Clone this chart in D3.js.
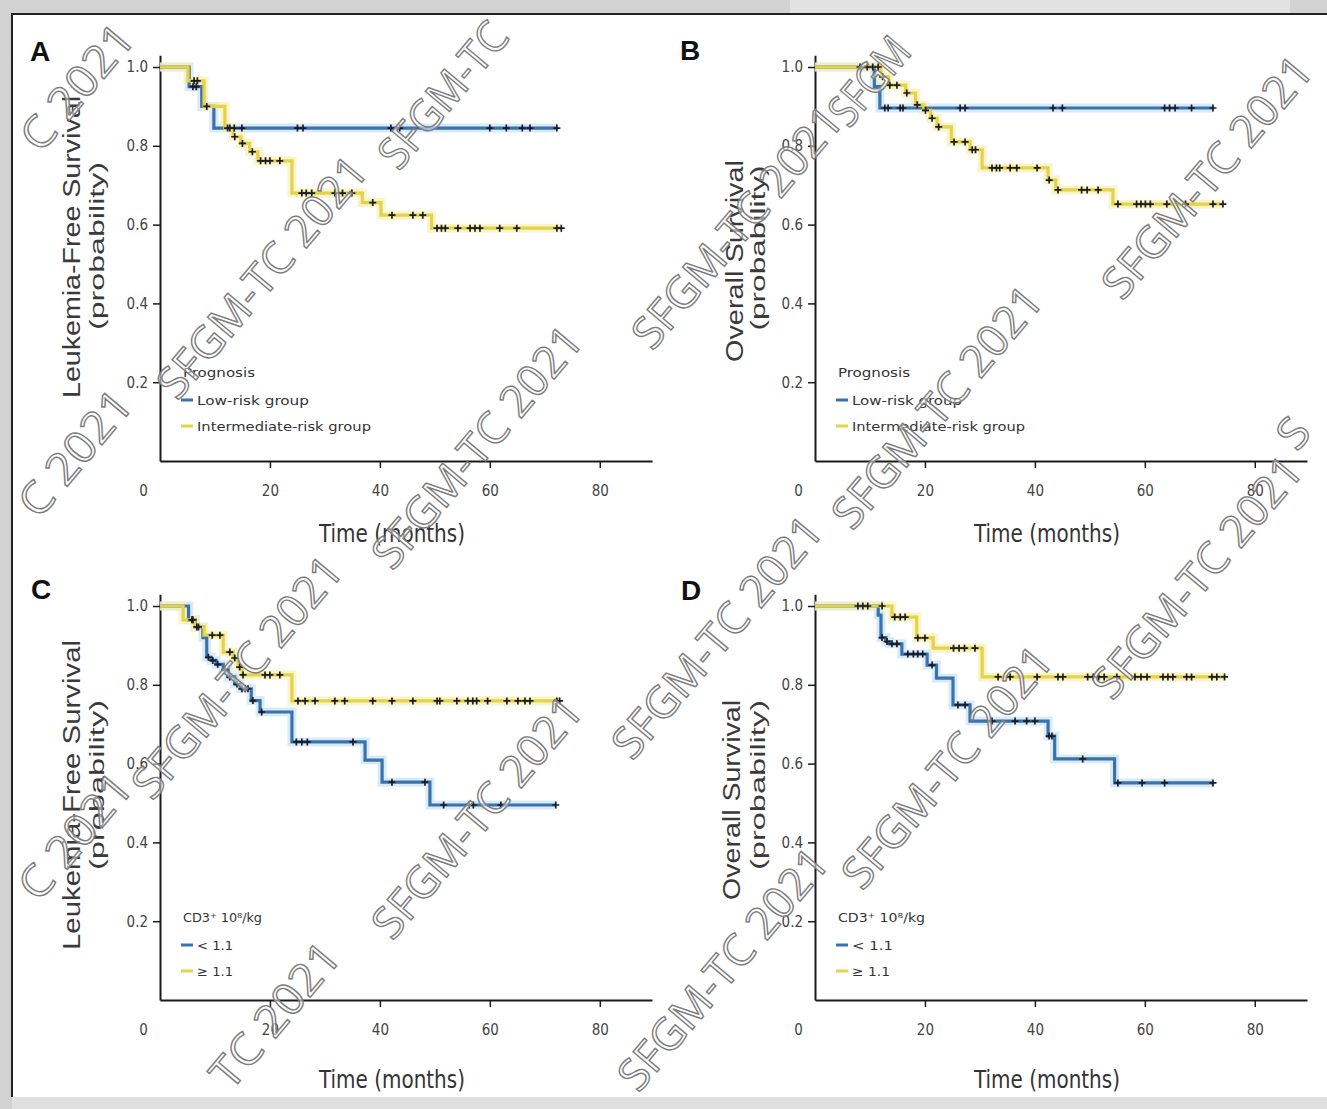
<!DOCTYPE html>
<html>
<head>
<meta charset="utf-8">
<title>Survival curves</title>
<script src="https://cdn.jsdelivr.net/npm/d3@7/dist/d3.min.js"></script>
<style>
  body{margin:0;background:#d2d2d2;overflow:hidden}
  .tick text{font-family:"Liberation Sans Narrow","DejaVu Sans Condensed",sans-serif;font-stretch:condensed;font-size:15px;fill:#444}
  .domain{stroke:#1a1a1a;stroke-width:2px}
  .tick line{stroke:#1a1a1a;stroke-width:1.5px}
  .narrow{font-family:"Liberation Sans Narrow","DejaVu Sans Condensed",sans-serif;font-stretch:condensed;fill:#333}
  .ylab{font-family:"Liberation Sans",Arial,sans-serif;fill:#3a3a3a}
  .stamp{font-family:"Open Sans",Lato,sans-serif;font-size:44px;fill:#fff;fill-opacity:0.55;stroke:#7d7d7d;stroke-width:1.4px}
</style>
</head>
<body>
<svg id="fig" width="1327" height="1109"></svg>
<script>
// ticks
const xTicks = [0, 20, 40, 60, 80];
const yTicks = [0.2, 0.4, 0.6, 0.8, 1.0];
const xMaxMonths = 89.5;

// A : leukemia-free survival, prognosis groups
const aLowSteps = [[0,1],[5.3,0.95],[7.6,0.90],[9.8,0.845]];
const aLowCens  = [6.0,6.6,8.5,12.7,13.5,14.9,25.0,26.0,42.0,43.6,60.0,63.0,65.9,67.3,72.2];
const aLowEnd   = 72.2;
const aIntSteps = [[0,1],[5.1,0.965],[8.0,0.90],[11.8,0.845],[13.3,0.823],[14.7,0.806],[16.3,0.785],[17.8,0.762],[24.0,0.68],[36.8,0.656],[40.2,0.624],[49.4,0.591]];
const aIntCens  = [6.2,6.8,12.3,13.6,15.0,16.8,18.3,19.2,20.0,21.8,25.8,26.6,27.6,31.8,33.2,34.9,38.7,42.2,46.0,47.8,50.4,51.2,51.9,54.2,56.4,57.3,58.2,61.8,64.9,72.2,73.0];
const aIntEnd   = 73.0;

// B : overall survival, prognosis groups
const bLowSteps = [[0,1],[10.8,0.95],[11.8,0.896]];
const bLowCens  = [12.7,13.3,15.5,16.0,26.4,27.3,43.3,45.0,63.6,64.5,65.5,68.5,72.4];
const bLowEnd   = 72.4;
const bIntSteps = [[0,1],[12.0,0.975],[13.4,0.954],[16.5,0.934],[18.3,0.904],[19.8,0.89],[21.0,0.87],[22.2,0.848],[24.8,0.81],[28.2,0.79],[30.4,0.744],[42.4,0.713],[43.8,0.688],[54.2,0.652]];
const bIntCens  = [8.2,9.5,10.5,11.5,12.3,13.6,14.9,16.7,18.6,20.1,21.3,22.5,25.3,27.3,28.6,29.2,32.2,33.0,33.6,35.5,36.7,40.4,42.6,44.2,48.5,49.5,51.5,55.1,58.5,59.3,60.1,61.0,64.0,67.4,72.4,74.2];
const bIntEnd   = 74.2;

// C : leukemia-free survival, CD3+ dose
const cLowSteps = [[0,1],[5.2,0.965],[6.4,0.947],[7.8,0.92],[8.5,0.87],[9.3,0.862],[10.2,0.852],[11.5,0.838],[12.4,0.82],[13.6,0.802],[14.6,0.79],[16.6,0.76],[18.2,0.731],[24.0,0.655],[37.3,0.609],[40.4,0.553],[49.1,0.495]];
const cLowCens  = [5.8,6.7,8.8,9.6,10.5,11.8,12.7,14.0,14.9,15.5,16.0,16.9,18.5,24.8,25.8,26.8,35.1,42.2,48.2,51.6,56.2,57.0,62.0,72.0];
const cLowEnd   = 72.0;
const cHighSteps = [[0,1],[4.2,0.965],[6.3,0.947],[8.0,0.926],[11.5,0.883],[13.3,0.868],[14.2,0.845],[15.0,0.825],[24.0,0.759]];
const cHighCens  = [6.0,7.0,9.5,10.9,12.7,13.6,14.5,15.1,19.1,20.0,21.8,25.1,26.4,28.2,31.8,33.6,38.7,42.2,46.0,50.4,50.9,54.0,56.0,56.9,57.6,59.6,63.1,65.1,66.4,67.3,72.2,72.7];
const cHighEnd   = 72.7;

// D : overall survival, CD3+ dose
const dLowSteps = [[0,1],[11.5,0.977],[12.0,0.92],[12.9,0.91],[13.6,0.904],[15.8,0.878],[20.4,0.85],[22.1,0.817],[25.1,0.749],[28.2,0.708],[42.4,0.67],[43.6,0.612],[54.5,0.551]];
const dLowCens  = [12.2,13.1,14.0,14.9,16.9,17.9,18.7,19.6,21.3,26.0,27.3,32.2,36.4,38.5,40.0,42.6,43.1,48.7,55.1,59.5,63.6,72.4];
const dLowEnd   = 72.4;
const dHighSteps = [[0,1],[14.0,0.972],[18.5,0.919],[21.5,0.893],[30.4,0.82]];
const dHighCens  = [7.8,8.7,9.6,12.2,14.5,15.5,16.4,18.7,20.0,25.2,26.2,27.2,29.1,33.3,35.5,40.4,44.2,45.1,49.6,50.6,51.6,52.6,54.9,58.2,59.3,60.4,63.3,64.2,65.1,67.6,68.5,72.2,73.1,74.5];
const dHighEnd   = 74.5;

// legend texts
const groupTitle = "Prognosis";
const groupNames = ["Low-risk group", "Intermediate-risk group"];
const doseTitle  = "CD3\u207A 10\u2078/kg";
const doseNames  = ["< 1.1", "\u2265 1.1"];
const lfsLabel = ["Leukemia-Free Survival", "(probability)"];
const osLabel  = ["Overall Survival", "(probability)"];
const timeLabel = "Time (months)";

const blue = {line:"#3a72ad", halo:"#c9e3f6"};
const yellow = {line:"#e3d24a", halo:"#f7f0b4"};

var svg = d3.select("#fig");

// page + frame
svg.append("rect").attr("width",1327).attr("height",1109).attr("fill","#d2d2d2")
svg.append("rect").attr("x",790).attr("y",0).attr("width",500).attr("height",13).attr("fill","#e2e2e2")
svg.append("rect").attr("x",12).attr("y",1097).attr("width",1315).attr("height",12).attr("fill","#e0e0e0")
svg.append("rect").attr("x",12).attr("y",14).attr("width",1320).attr("height",1083).attr("fill","#fff")
svg.append("path").attr("d","M12,1097V14H1327").attr("fill","none").attr("stroke","#222").attr("stroke-width",2)

var panels = [
  {tag:"A", tagX:30, tagY:61, ox:160, oy:461, ylab:lfsLabel, ylabX:[80,104], ylabY:[247,246], ylabLen:[302,168],
   xlabX:392, xlabY:542, legX:181, legY:373, legTitle:groupTitle, names:groupNames, legLen:[72,112,174],
   curves:[{steps:aLowSteps,cens:aLowCens,end:aLowEnd,col:blue},{steps:aIntSteps,cens:aIntCens,end:aIntEnd,col:yellow}]},
  {tag:"B", tagX:680, tagY:60, ox:815, oy:461, ylab:osLabel, ylabX:[743,765], ylabY:[261,248], ylabLen:[202,165],
   xlabX:1047, xlabY:542, legX:836, legY:373, legTitle:groupTitle, names:groupNames, legLen:[72,110,173],
   curves:[{steps:bLowSteps,cens:bLowCens,end:bLowEnd,col:blue},{steps:bIntSteps,cens:bIntCens,end:bIntEnd,col:yellow}]},
  {tag:"C", tagX:31, tagY:599, ox:160, oy:1000, ylab:lfsLabel, ylabX:[80,104], ylabY:[795,785], ylabLen:[310,170],
   xlabX:392, xlabY:1088, legX:181, legY:918, legTitle:doseTitle, names:doseNames, legLen:[79,36,36],
   curves:[{steps:cLowSteps,cens:cLowCens,end:cLowEnd,col:blue},{steps:cHighSteps,cens:cHighCens,end:cHighEnd,col:yellow}]},
  {tag:"D", tagX:681, tagY:600, ox:815, oy:1000, ylab:osLabel, ylabX:[740,765], ylabY:[800,785], ylabLen:[200,170],
   xlabX:1047, xlabY:1088, legX:836, legY:918, legTitle:doseTitle, names:doseNames, legLen:[87,41,38],
   curves:[{steps:dLowSteps,cens:dLowCens,end:dLowEnd,col:blue},{steps:dHighSteps,cens:dHighCens,end:dHighEnd,col:yellow}]}
];

function survAt(steps,t){
  let s = 1
  steps.forEach(d=>{ if(d[0]<=t) s=d[1] })
  return s
}

function drawPanel(p){
  let x = d3.scaleLinear().domain([0,xMaxMonths]).range([0,492])
  let y = d3.scaleLinear().domain([0,1.03]).range([0,-405.8])
  let g = svg.append("g").attr("transform",`translate(${p.ox} ${p.oy})`)

  //axes
  let xa = g.append("g").call(d3.axisBottom(x).tickValues(xTicks).tickSize(7).tickSizeOuter(0).tickPadding(17).tickFormat(d3.format("d")))
  xa.selectAll(".tick").filter(d=>d==0).select("line").remove()
  xa.selectAll(".tick").filter(d=>d==0).select("text").attr("x",-17)
  g.append("g").call(d3.axisLeft(y).tickValues(yTicks).tickSize(7).tickSizeOuter(0).tickPadding(5).tickFormat(d3.format(".1f")))

  //curves
  let line = d3.line().x(d=>x(d[0])).y(d=>y(d[1])).curve(d3.curveStepAfter)
  let pts = p.curves.map(c=>c.steps.concat([[c.end, c.steps[c.steps.length-1][1]]]))
  p.curves.forEach((c,i)=>{
    g.append("path").attr("d",line(pts[i])).attr("fill","none")
      .attr("stroke",c.col.halo).attr("stroke-width",9).attr("stroke-opacity",0.7)
  })
  p.curves.forEach((c,i)=>{
    g.append("path").attr("d",line(pts[i])).attr("fill","none")
      .attr("stroke",c.col.line).attr("stroke-width",3.2)
  })
  p.curves.forEach(c=>{
    g.selectAll(null).data(c.cens).enter().append("path")
      .attr("d","M-3.5,0H3.5M0,-3.5V3.5")
      .attr("transform",d=>`translate(${x(d)} ${y(survAt(c.steps,d))})`)
      .attr("stroke","#1b1b24").attr("stroke-width",1.7)
  })

  //legend
  svg.append("text").attr("class","narrow").attr("x",p.legX+2).attr("y",p.legY+4)
    .attr("font-size",13).attr("textLength",p.legLen[0]).attr("lengthAdjust","spacingAndGlyphs").text(p.legTitle)
  p.curves.forEach((c,i)=>{
    let ly = p.legY+27+26*i
    svg.append("line").attr("x1",p.legX).attr("x2",p.legX+12).attr("y1",ly).attr("y2",ly)
      .attr("stroke",c.col.line).attr("stroke-width",3)
    svg.append("text").attr("class","narrow").attr("x",p.legX+16).attr("y",ly+4.5)
      .attr("font-size",13).attr("textLength",p.legLen[i+1]).attr("lengthAdjust","spacingAndGlyphs").text(p.names[i])
  })

  //titles
  p.ylab.forEach((t,i)=>{
    svg.append("text").attr("class","ylab").attr("text-anchor","middle")
      .attr("transform",`translate(${p.ylabX[i]} ${p.ylabY[i]}) rotate(-90)`)
      .attr("font-size",i==0?23:20).attr("textLength",p.ylabLen[i]).attr("lengthAdjust","spacingAndGlyphs").text(t)
  })
  svg.append("text").attr("class","narrow").attr("text-anchor","middle").attr("x",p.xlabX).attr("y",p.xlabY)
    .attr("font-size",25).attr("textLength",146).attr("lengthAdjust","spacingAndGlyphs").text(timeLabel)
  svg.append("text").attr("x",p.tagX).attr("y",p.tagY).attr("font-family","Liberation Sans, Arial, sans-serif")
    .attr("font-weight","bold").attr("font-size",28).attr("fill","#111").text(p.tag)
}

panels.forEach(drawPanel)

// watermark stamps: centre x, centre y, visible part of "SFGM-TC 2021"
var stamps = [[76,86,"C 2021"],[442,94,"SFGM-TC"],[261,276,"SFGM-TC 2021"],[476,446,"SFGM-TC 2021"],[74,452,"C 2021"],
              [736,226,"SFGM-TC 2021"],[868,80,"SFGM"],[936,406,"SFGM-TC 2021"],[1206,176,"SFGM-TC 2021"],[1292,432,"S"],
              [236,676,"SFGM-TC 2021"],[476,816,"SFGM-TC 2021"],[74,835,"C 2021"],[274,1014,"TC 2021"],[722,968,"SFGM-TC 2021"],
              [716,636,"SFGM-TC 2021"],[946,766,"SFGM-TC 2021"],[1196,576,"SFGM-TC 2021"]]
svg.selectAll(".stamp").data(stamps).enter().append("text").attr("class","stamp")
  .attr("text-anchor","middle").attr("dominant-baseline","central")
  .attr("textLength",d=>25*d[2].length).attr("lengthAdjust","spacingAndGlyphs")
  .attr("transform",d=>`translate(${d[0]} ${d[1]}) rotate(-50)`)
  .text(d=>d[2])
</script>
</body>
</html>
